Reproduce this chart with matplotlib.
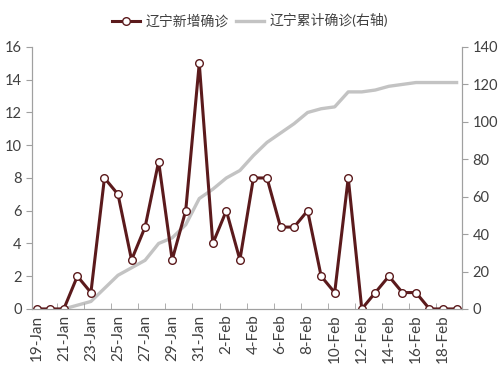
import numpy as np
import matplotlib.pyplot as plt
from matplotlib.lines import Line2D

plt.rcParams["font.family"] = ["Lato", "Noto Sans CJK SC", "DejaVu Sans"]

dates = ["19-Jan", "20-Jan", "21-Jan", "22-Jan", "23-Jan", "24-Jan", "25-Jan", "26-Jan",
         "27-Jan", "28-Jan", "29-Jan", "30-Jan", "31-Jan", "1-Feb", "2-Feb", "3-Feb",
         "4-Feb", "5-Feb", "6-Feb", "7-Feb", "8-Feb", "9-Feb", "10-Feb", "11-Feb",
         "12-Feb", "13-Feb", "14-Feb", "15-Feb", "16-Feb", "17-Feb", "18-Feb", "19-Feb"]
new_cases = [0, 0, 0, 2, 1, 8, 7, 3, 5, 9, 3, 6, 15, 4, 6, 3,
             8, 8, 5, 5, 6, 2, 1, 8, 0, 1, 2, 1, 1, 0, 0, 0]
total_cases = [np.nan, np.nan, 0, 2, 4, 11, 18, 22, 26, 35, 38, 45, 59, 64, 70, 74,
               82, 89, 94, 99, 105, 107, 108, 116, 116, 117, 119, 120, 121, 121, 121, 121]

label_new = "辽宁新增确诊"
label_total = "辽宁累计确诊(右轴)"

maroon = "#5b1a1c"
grey = "#c3c3c3"
axis_col = "#a0a0a0"
text_col = "#404040"

x = np.arange(len(dates))

fig = plt.figure(figsize=(5, 3.7), dpi=100)
ax = fig.add_axes([0.064, 0.165, 0.86, 0.708])
ax2 = ax.twinx()
ax.set_zorder(ax2.get_zorder() + 1)
ax.patch.set_visible(False)

ax2.plot(x, total_cases, color=grey, lw=2.4, solid_joinstyle="round")
ax.plot(x, new_cases, color=maroon, lw=2.2, marker="o", ms=5.5,
        mfc="white", mec=maroon, mew=1)

ax.set_xlim(-0.35, 31.4)
ax.set_ylim(0, 16)
ax2.set_ylim(0, 140)
ax.set_yticks(np.arange(0, 17, 2))
ax2.set_yticks(np.arange(0, 141, 20))

ax.set_xticks(x[::2])
ax.set_xticklabels(dates[::2], rotation=90)
ax.set_xticks(np.arange(1.5, 31.5, 2), minor=True)

for a in (ax, ax2):
    a.spines["top"].set_visible(False)
    for s in ("left", "right", "bottom"):
        a.spines[s].set_color(axis_col)
    a.tick_params(labelsize=10.5, labelcolor=text_col, color=axis_col)
ax.tick_params(axis="x", which="major", length=0, pad=4, labelsize=11)
ax.tick_params(axis="x", which="minor", direction="in", length=4, color=axis_col)
ax.tick_params(axis="y", length=4)
ax2.tick_params(axis="y", length=4)

handles = [
    Line2D([], [], color=maroon, lw=2.2, marker="o", ms=5.5, mfc="white", mec=maroon, mew=1),
    Line2D([], [], color=grey, lw=2.4),
]
fig.legend(handles, [label_new, label_total], loc="center", bbox_to_anchor=(0.5, 0.945),
           ncol=2, frameon=False, fontsize=10, handlelength=2.0, columnspacing=0.5,
           handletextpad=0.4, labelcolor=text_col)

fig.savefig("out.png", dpi=100)
